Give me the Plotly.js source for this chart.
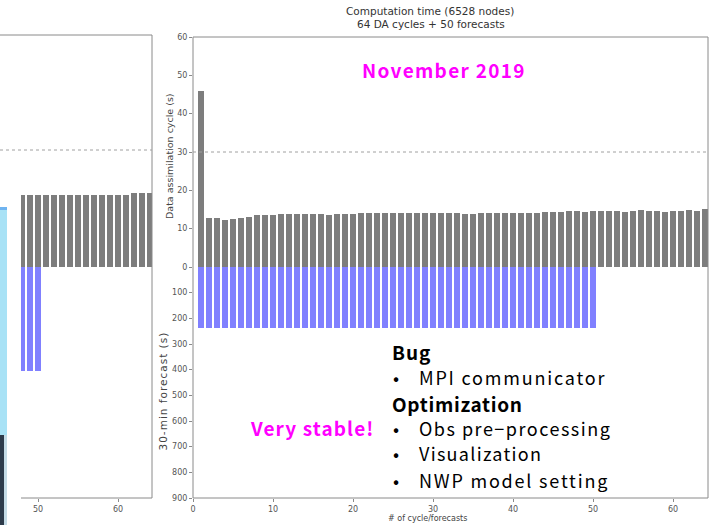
<!DOCTYPE html>
<html>
<head>
<meta charset="utf-8">
<script src="https://cdn.plot.ly/plotly-3.0.1.min.js"></script>
<style>
  html, body { margin: 0; padding: 0; background: #ffffff; }
  #chart { width: 717px; height: 525px; }
  /* wider tracking for the slide call-outs */
  g.annotation[data-index="3"] text { letter-spacing: 1.3px; }
  g.annotation[data-index="4"] text { letter-spacing: 1.1px; }
  g.annotation[data-index="5"] text { letter-spacing: 1.0px; }
  g.annotation[data-index="7"] text { letter-spacing: 0.7px; }
  g.annotation[data-index="6"] text, g.annotation[data-index="10"] text { letter-spacing: 1.8px; }
  g.annotation[data-index="8"] text { letter-spacing: 1.5px; }
  g.annotation[data-index="9"] text { letter-spacing: 1.3px; }
  g.annotation[data-index="12"] text { letter-spacing: 1px; }
</style>
</head>
<body>
<div id="chart"></div>
<script>
// Cycle numbers
const cycles = Array.from({length: 64}, (_, i) => i + 1);
const forecastCycles = cycles.slice(0, 50);

// November 2019: data-assimilation time per cycle (s)
const daSeconds = [
  46.0, 12.8, 12.8, 12.3, 12.5, 12.7, 13.0, 13.5, 13.5, 13.6,
  13.8, 13.8, 13.7, 13.8, 13.7, 13.8, 13.6, 13.8, 13.8, 13.7,
  14.2, 14.2, 14.2, 14.1, 14.2, 14.1, 14.1, 14.2, 14.1, 14.1,
  14.1, 14.0, 14.0, 13.9, 13.8, 14.1, 14.1, 14.1, 14.1, 14.0,
  14.1, 14.1, 14.2, 14.3, 14.4, 14.4, 14.5, 14.5, 14.4, 14.6,
  14.6, 14.6, 14.5, 14.4, 14.7, 14.9, 14.6, 14.5, 14.4, 14.6,
  14.6, 14.9, 14.5, 15.1
];

// November 2019: 30-min forecast time (s), first 50 cycles
const forecastSeconds = [
  236, 236, 236, 236, 236, 236, 236, 236, 236, 236,
  236, 236, 236, 236, 236, 236, 236, 236, 236, 236,
  236, 236, 236, 236, 236, 236, 236, 236, 236, 236,
  236, 236, 236, 236, 236, 236, 236, 236, 236, 236,
  236, 236, 236, 236, 236, 236, 236, 236, 236, 236
];

// Earlier run (panel on the left, only its tail is visible)
const earlierCycles = [48, 49, 50, 51, 52, 53, 54, 55, 56, 57, 58, 59, 60, 61, 62, 63, 64];
const earlierDaSeconds = [18.8, 18.8, 18.7, 18.7, 18.8, 18.7, 18.8, 18.8, 18.9, 18.8, 18.8, 18.9, 18.8, 18.9, 19.2, 19.2, 19.3];
const earlierForecastCycles = [48, 49, 50];
const earlierForecastSeconds = [405, 405, 405];

// Axis ticks
const xTicks = [0, 10, 20, 30, 40, 50, 60];
const daTicks = [0, 10, 20, 30, 40, 50, 60];
const fcTicks = [100, 200, 300, 400, 500, 600, 700, 800, 900];
const earlierXTicks = [50, 60];

const GRAY_BAR = '#7d7d7d';
const BLUE_BAR = '#8080ff';
const AXIS = '#8a8a8a';
const TICKFONT = {family: 'DejaVu Sans', size: 8, color: '#555'};

// pixel helpers for the 717x525 page (margins l=0 r=9 t=37 b=27)
const W = 708, H = 461, TOP = 37;
const px = x => x / W;
const py = y => (TOP + H - y) / H;

const split = py(267);          // zero line shared by both panels
const mainLeft = px(193);

const traces = [
  {type: 'bar', x: cycles, y: daSeconds, xaxis: 'x', yaxis: 'y',
   marker: {color: GRAY_BAR, line: {width: 0}}, width: 0.8, hoverinfo: 'skip'},
  {type: 'bar', x: forecastCycles, y: forecastSeconds, xaxis: 'x', yaxis: 'y2',
   marker: {color: BLUE_BAR, line: {width: 0}}, width: 0.8, hoverinfo: 'skip'},
  {type: 'bar', x: earlierCycles, y: earlierDaSeconds, xaxis: 'x2', yaxis: 'y3',
   marker: {color: GRAY_BAR, line: {width: 0}}, width: 0.8, hoverinfo: 'skip'},
  {type: 'bar', x: earlierForecastCycles, y: earlierForecastSeconds, xaxis: 'x2', yaxis: 'y4',
   marker: {color: BLUE_BAR, line: {width: 0}}, width: 0.8, hoverinfo: 'skip'}
];

const slideFont = 'Noto Sans CJK JP';
const textAt = (text, xPix, yPix, font, anchor, angle) => ({
  xref: 'paper', yref: 'paper', x: px(xPix), y: py(yPix),
  xanchor: anchor || 'left', yanchor: 'middle', align: anchor === 'center' ? 'center' : 'left',
  textangle: angle || 0, showarrow: false, text: text, font: font
});
const headFont = {family: slideFont, size: 19, color: '#000'};
const itemFont = {family: slideFont, size: 18, color: '#000'};
const pink = {family: slideFont, size: 19, color: '#ff00ff'};
const smallGray = {family: 'DejaVu Sans', size: 10.5, color: '#333'};
const axisTitle = {family: 'DejaVu Sans', size: 9.5, color: '#444'};

const annotations = [
  textAt('Computation time (6528 nodes)', 430, 11, smallGray, 'center'),
  textAt('64 DA cycles + 50 forecasts', 431, 23.5, smallGray, 'center'),
  textAt('# of cycle/forecasts', 427, 518, {family: 'DejaVu Sans', size: 8, color: '#444'}, 'center'),
  textAt('<b>November 2019</b>', 360, 69, pink),
  textAt('<b>Very stable!</b>', 248, 427, pink),
  textAt('<b>Bug</b>', 390, 351, headFont),
  textAt('MPI communicator', 417, 377, itemFont),
  textAt('<b>Optimization</b>', 390, 403, headFont),
  textAt('Obs pre\u2212processing', 417, 428, itemFont),
  textAt('Visualization', 417, 453, itemFont),
  textAt('NWP model setting', 417, 480, itemFont),
  textAt('Data assimilation cycle (s)', 169, 156, axisTitle, 'center', -90),
  textAt('30-min forecast (s)', 163, 391, {family: 'DejaVu Sans', size: 10.5, color: '#444'}, 'center', -90)
];
// bullets
[377, 428, 453, 480].forEach(y => annotations.push(textAt('\u2022', 396, y, itemFont, 'center')));

const shapes = [
  // main panel frame
  {type: 'rect', xref: 'paper', yref: 'paper', x0: mainLeft, x1: 1, y0: 0, y1: 1,
   line: {color: AXIS, width: 1}, layer: 'above'},
  // 30 s reference line
  {type: 'line', xref: 'paper', yref: 'y', x0: mainLeft, x1: 1, y0: 30, y1: 30,
   line: {color: '#a0a0a0', width: 1, dash: 'dot'}},
  // earlier panel frame pieces
  {type: 'line', xref: 'paper', yref: 'paper', x0: 0, x1: px(152), y0: py(35), y1: py(35),
   line: {color: AXIS, width: 1}},
  {type: 'line', xref: 'paper', yref: 'paper', x0: px(152), x1: px(152), y0: py(35), y1: 0,
   line: {color: AXIS, width: 1}},
  {type: 'line', xref: 'paper', yref: 'paper', x0: px(21), x1: px(152), y0: 0, y1: 0,
   line: {color: AXIS, width: 1}},
  {type: 'line', xref: 'paper', yref: 'paper', x0: 0, x1: px(152), y0: py(150), y1: py(150),
   line: {color: '#a0a0a0', width: 1, dash: 'dot'}},
  // slide decoration at the left edge
  {type: 'rect', xref: 'paper', yref: 'paper', x0: 0, x1: px(7), y0: py(435), y1: py(207),
   fillcolor: '#a8e2f6', line: {width: 0}},
  {type: 'rect', xref: 'paper', yref: 'paper', x0: 0, x1: px(7), y0: py(210), y1: py(207),
   fillcolor: '#6fb4f0', line: {width: 0}},
  {type: 'rect', xref: 'paper', yref: 'paper', x0: 0, x1: px(4), y0: py(525), y1: py(435),
   fillcolor: '#2d3b4b', line: {width: 0}},
  {type: 'rect', xref: 'paper', yref: 'paper', x0: px(4), x1: px(7), y0: py(525), y1: py(435),
   fillcolor: '#c4dbe6', line: {width: 0}}
];

const layout = {
  width: 717, height: 525,
  margin: {l: 0, r: 9, t: 37, b: 27, pad: 0},
  paper_bgcolor: '#ffffff', plot_bgcolor: 'rgba(0,0,0,0)',
  showlegend: false, bargap: 0,
  xaxis: {
    domain: [mainLeft, 1], anchor: 'y2', range: [0, 64.375],
    tickvals: xTicks, ticktext: xTicks.map(String), ticks: 'outside', ticklen: 3,
    tickcolor: AXIS, showgrid: false, zeroline: false, showline: false,
    tickfont: TICKFONT
  },
  yaxis: {
    domain: [split, 1], anchor: 'x', range: [0, 60],
    tickvals: daTicks, ticktext: daTicks.map(String), ticks: 'outside', ticklen: 3,
    tickcolor: AXIS, showgrid: false, zeroline: false, showline: false,
    tickfont: TICKFONT
  },
  yaxis2: {
    domain: [0, split], anchor: 'x', range: [900, 0],
    tickvals: fcTicks, ticktext: fcTicks.map(String), ticks: 'outside', ticklen: 3,
    tickcolor: AXIS, showgrid: false, zeroline: false, showline: false,
    tickfont: TICKFONT
  },
  xaxis2: {
    domain: [px(21), px(152)], anchor: 'y4', range: [47.875, 64.25],
    tickvals: earlierXTicks, ticktext: earlierXTicks.map(String), ticks: 'outside', ticklen: 3,
    tickcolor: AXIS, showgrid: false, zeroline: false, showline: false,
    tickfont: TICKFONT
  },
  yaxis3: {
    domain: [split, 1], anchor: 'x2', range: [0, 60],
    showticklabels: false, ticks: '', showgrid: false, zeroline: false, showline: false
  },
  yaxis4: {
    domain: [0, split], anchor: 'x2', range: [900, 0],
    showticklabels: false, ticks: '', showgrid: false, zeroline: false, showline: false
  },
  shapes: shapes,
  annotations: annotations
};

Plotly.newPlot('chart', traces, layout, {staticPlot: true, displayModeBar: false});
</script>
</body>
</html>
